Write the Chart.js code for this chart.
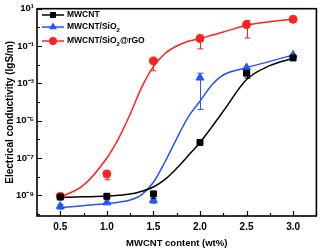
<!DOCTYPE html>
<html>
<head>
<meta charset="utf-8">
<script src="https://cdn.jsdelivr.net/npm/chart.js@4/dist/chart.umd.min.js"></script>
<style>
html, body { margin: 0; padding: 0; background: #fff; }
</style>
</head>
<body>
<canvas id="canvasChart" width="322" height="251"></canvas>
<script>
"use strict";

// measured points
var contents = [0.5, 1.0, 1.5, 2.0, 2.5, 3.0];
var mwcnt = [8.1e-10, 8.9e-10, 1.2e-9, 6.8e-7, 3.5e-3, 2.3e-2];
var mwcntLow = [8.1e-10, 8.9e-10, 6.9e-10, 6.8e-7, 1.9e-3, 2.3e-2];
var mwcntHigh = [8.1e-10, 8.9e-10, 1.2e-9, 6.8e-7, 3.5e-3, 2.3e-2];
var mwcntSiO2 = [2.6e-10, 4.1e-10, 5.4e-10, 2.0e-3, 6.9e-3, 3.3e-2];
var mwcntSiO2Low = [1.8e-10, 3.3e-10, 3.8e-10, 4.0e-5, 6.9e-3, 3.3e-2];
var mwcntSiO2High = [3.3e-10, 4.1e-10, 5.4e-10, 3.5e-3, 6.9e-3, 3.3e-2];
var mwcntSiO2rGO = [8.9e-10, 1.4e-8, 1.6e-2, 0.25, 1.4, 2.7];
var mwcntSiO2rGOLow = [7.0e-10, 6.8e-9, 4.7e-3, 0.071, 0.27, 2.7];
var mwcntSiO2rGOHigh = [8.9e-10, 1.4e-8, 1.6e-2, 0.39, 2.3, 2.7];

// fitted curves
var fitContents = [0.5, 0.75, 1.0, 1.125, 1.25, 1.375, 1.5, 1.625, 1.75, 1.875, 2.0, 2.125, 2.25, 2.5, 2.75, 3.0];
var mwcntFit = [7.6e-10, 8.3e-10, 9.1e-10, 1.0e-9, 1.17e-9, 1.66e-9, 2.8e-9, 7.1e-9, 2.8e-8, 1.35e-7, 6.8e-7, 4.5e-6, 3.2e-5, 1.6e-3, 8.9e-3, 2.2e-2];
var mwcntSiO2Fit = [2.2e-10, 2.8e-10, 3.6e-10, 4.3e-10, 5.6e-10, 1.1e-9, 5.0e-9, 6.3e-8, 1.1e-6, 1.6e-5, 1.1e-4, 7.9e-4, 2.8e-3, 6.9e-3, 1.5e-2, 3.3e-2];
var mwcntSiO2rGOFit = [7.9e-10, 3.5e-9, 1.0e-7, 1.1e-6, 2.2e-5, 6.3e-4, 7.9e-3, 4.0e-2, 0.1, 0.18, 0.25, 0.38, 0.56, 1.3, 2.0, 2.7];

var seriesNames = ['MWCNT', 'MWCNT/SiO', 'MWCNT/SiO'];
var seriesTails = ['', '2', '2'];
var seriesAfter = ['', '', '@rGO'];
var seriesColors = ['#000000', '#2255ff', '#ff2222'];
var seriesStyles = ['rect', 'triangle', 'circle'];
var seriesRadius = [4.2, 4.6, 4];

var yExponents = [-10, -9, -8, -7, -6, -5, -4, -3, -2, -1, 0, 1];

var FONT = "'Liberation Sans', Arial, sans-serif";

function $each(arr, fn) {
	for (var i = 0; i < arr.length; i++) fn(i, arr[i]);
}

function ToPoints(xs, ys) {
	var pts = [];
	$each(xs, function (i, x) { pts.push({ x: x, y: ys[i] }); });
	return pts;
}

function Sup(e) {
	var map = { '-': '\u207B', '0': '\u2070', '1': '\u00B9', '2': '\u00B2', '3': '\u00B3', '4': '\u2074', '5': '\u2075', '6': '\u2076', '7': '\u2077', '8': '\u2078', '9': '\u2079' };
	return String(e).split('').map(function (c) { return map[c]; }).join('');
}

var fits = [mwcntFit, mwcntSiO2Fit, mwcntSiO2rGOFit];
var points = [mwcnt, mwcntSiO2, mwcntSiO2rGO];
var lows = [mwcntLow, mwcntSiO2Low, mwcntSiO2rGOLow];
var highs = [mwcntHigh, mwcntSiO2High, mwcntSiO2rGOHigh];

var datasets = [];
$each(fits, function (i, fit) {
	datasets.push({
		label: seriesNames[i] + ' fit',
		data: ToPoints(fitContents, fit),
		borderColor: seriesColors[i],
		borderWidth: 1.5,
		pointRadius: 0,
		cubicInterpolationMode: 'monotone',
		fill: false,
		order: 2
	});
});
$each(points, function (i, pts) {
	datasets.push({
		label: seriesNames[i] + seriesTails[i] + seriesAfter[i],
		data: ToPoints(contents, pts),
		showLine: false,
		pointStyle: seriesStyles[i],
		pointRadius: seriesRadius[i],
		pointBackgroundColor: seriesColors[i],
		pointBorderColor: seriesColors[i],
		pointBorderWidth: 1,
		order: 1
	});
});

function DrawMarker(ctx, style, r, x, y) {
	ctx.beginPath();
	if (style === 'rect') {
		var s = r * Math.SQRT1_2;
		ctx.rect(x - s, y - s, 2 * s, 2 * s);
	} else if (style === 'triangle') {
		ctx.moveTo(x, y - r);
		ctx.lineTo(x + r * 0.866, y + r * 0.5);
		ctx.lineTo(x - r * 0.866, y + r * 0.5);
		ctx.closePath();
	} else {
		ctx.arc(x, y, r, 0, Math.PI * 2);
	}
	ctx.fill();
}

// frame, inward ticks, error bars and the legend
var decorPlugin = {
	id: 'decor',
	afterDatasetsDraw: function (chart) {
		var ctx = chart.ctx;
		var a = chart.chartArea;
		var xs = chart.scales.x, ys = chart.scales.y;
		ctx.save();

		// error bars
		$each(points, function (i, pts) {
			ctx.strokeStyle = seriesColors[i];
			ctx.lineWidth = 1;
			$each(pts, function (j, v) {
				var px = Math.round(xs.getPixelForValue(contents[j])) + 0.5;
				var lo = ys.getPixelForValue(lows[i][j]);
				var hi = ys.getPixelForValue(highs[i][j]);
				if (Math.abs(lo - hi) < 2) return;
				ctx.beginPath();
				ctx.moveTo(px, lo); ctx.lineTo(px, hi);
				ctx.moveTo(px - 3, lo); ctx.lineTo(px + 3, lo);
				ctx.moveTo(px - 3, hi); ctx.lineTo(px + 3, hi);
				ctx.stroke();
			});
		});

		// ticks
		ctx.strokeStyle = '#000';
		ctx.lineWidth = 1.2;
		ctx.beginPath();
		for (var t = 0.25; t < 3.3; t += 0.25) {
			var px = Math.round(xs.getPixelForValue(t)) + 0.5;
			var major = Math.abs(t * 2 - Math.round(t * 2)) < 1e-6;
			ctx.moveTo(px, a.bottom);
			ctx.lineTo(px, a.bottom - (major ? 5 : 3));
		}
		$each(yExponents, function (k, e) {
			var py = Math.round(ys.getPixelForValue(Math.pow(10, e))) + 0.5;
			ctx.moveTo(a.left, py);
			ctx.lineTo(a.left + (e % 2 !== 0 ? 5 : 3), py);
		});
		ctx.stroke();

		// frame
		ctx.lineWidth = 1.6;
		ctx.strokeRect(a.left, a.top, a.right - a.left, a.bottom - a.top);

		// legend
		var rows = [15, 27, 41];
		ctx.textBaseline = 'middle';
		$each(rows, function (i, y) {
			var x0 = a.left + 5;
			ctx.strokeStyle = seriesColors[i];
			ctx.fillStyle = seriesColors[i];
			ctx.lineWidth = 1.5;
			ctx.beginPath();
			ctx.moveTo(x0, y); ctx.lineTo(x0 + 22, y);
			ctx.stroke();
			DrawMarker(ctx, seriesStyles[i], seriesRadius[i], x0 + 11, y);

			ctx.fillStyle = '#000';
			var tx = x0 + 25;
			ctx.font = 'bold 8.5px ' + FONT;
			ctx.fillText(seriesNames[i], tx, y);
			tx += ctx.measureText(seriesNames[i]).width;
			if (seriesTails[i]) {
				ctx.font = 'bold 6px ' + FONT;
				ctx.fillText(seriesTails[i], tx, y + 3);
				tx += ctx.measureText(seriesTails[i]).width;
			}
			if (seriesAfter[i]) {
				ctx.font = 'bold 8.5px ' + FONT;
				ctx.fillText(seriesAfter[i], tx, y);
			}
		});
		ctx.restore();
	}
};

const context = document.getElementById('canvasChart');
const myChart = new Chart(context, {
	type: 'line',
	data: { datasets: datasets },
	plugins: [decorPlugin],
	options: {
		responsive: false,
		animation: false,
		devicePixelRatio: 1,
		layout: { padding: { top: 6, right: 3, left: 0, bottom: 0 } },
		plugins: { legend: { display: false }, tooltip: { enabled: false } },
		scales: {
			x: {
				type: 'linear',
				min: 0.25,
				max: 3.25,
				afterFit: function (s) { s.height = 35; },
				grid: { display: false, drawTicks: false },
				border: { display: false },
				ticks: {
					stepSize: 0.25,
					autoSkip: false,
					maxRotation: 0,
					padding: 5,
					color: '#000',
					font: { family: FONT, size: 10, weight: 'bold' },
					callback: function (v) {
						var m = Math.abs(v * 2 - Math.round(v * 2)) < 1e-6;
						return (m && v > 0.3 && v < 3.1) ? v.toFixed(1) : '';
					}
				},
				title: {
					display: true,
					text: 'MWCNT content (wt%)',
					color: '#000',
					padding: { top: 0, bottom: 2 },
					font: { family: FONT, size: 9.5, weight: 'bold' }
				}
			},
			y: {
				type: 'logarithmic',
				min: 7.8e-11,
				max: 10,
				afterFit: function (s) { s.width = 37; },
				afterBuildTicks: function (s) {
					s.ticks = yExponents.map(function (e) { return { value: Math.pow(10, e) }; });
				},
				grid: { display: false, drawTicks: false },
				border: { display: false },
				ticks: {
					autoSkip: false,
					padding: 3,
					color: '#000',
					font: { family: FONT, size: 9.5, weight: 'bold' },
					callback: function (v) {
						var e = Math.round(Math.log10(v));
						return e % 2 !== 0 ? '10' + Sup(e) : '';
					}
				},
				title: {
					display: true,
					text: 'Electrical conductivity (lgS/m)',
					color: '#000',
					padding: { top: 4, bottom: 0 },
					font: { family: FONT, size: 10, weight: 'bold' }
				}
			}
		}
	}
});
</script>
</body>
</html>
